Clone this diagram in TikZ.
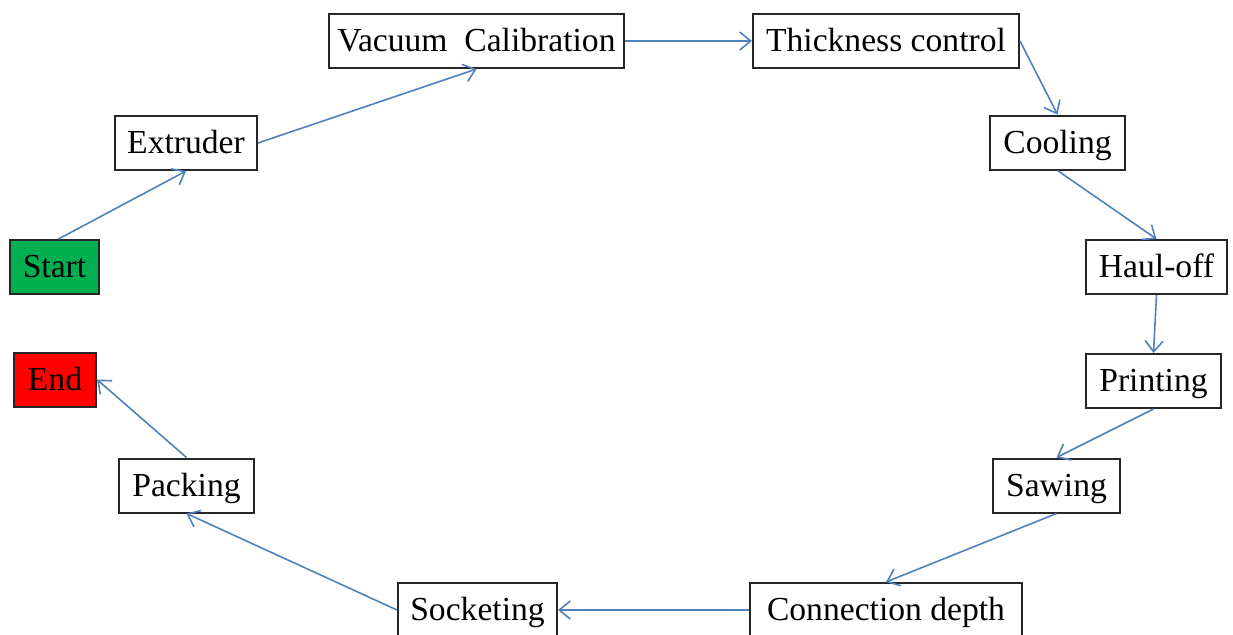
\documentclass[tikz,border=0pt]{standalone}
\usepackage{fontspec}
\setmainfont{Liberation Serif}
\usetikzlibrary{arrows.meta}
\definecolor{flowblue}{RGB}{79,129,189}
\definecolor{startgreen}{RGB}{0,176,80}
\begin{document}
\begin{tikzpicture}[x=0.5pt,y=-0.5pt,
		stage/.style={draw=black!85,line width=1pt,fill=white,minimum height=27pt,inner sep=0pt,
			text height=13pt,text depth=2.5pt,font=\fontsize{16.8}{19}\selectfont},
		flow/.style={draw=flowblue,line width=0.8pt,-{Straight Barb[length=5.5pt,width=9pt]}}]
		\useasboundingbox (0,0) rectangle (1233,634);
		\clip (0,0) rectangle (1233,634);
		
		\node[stage,fill=startgreen,minimum width=44.5pt] (start) at (54.5,267) {Start};
		\node[stage,minimum width=71pt] (extruder) at (186,143) {Extruder};
		\node[stage,minimum width=147.5pt] (vacuum) at (476.5,41) {Vacuum\ \ Calibration};
		\node[stage,minimum width=133pt] (thickness) at (886,41) {Thickness control};
		\node[stage,minimum width=67.5pt] (cooling) at (1057.5,142.5) {Cooling};
		\node[stage,minimum width=70.5pt] (hauloff) at (1156.5,267) {Haul-off};
		\node[stage,minimum width=67.5pt] (printing) at (1153.5,381) {Printing};
		\node[stage,minimum width=63.5pt] (sawing) at (1056.5,485.5) {Sawing};
		\node[stage,minimum width=136pt] (connection) at (886,610) {Connection depth};
		\node[stage,minimum width=79.5pt] (socketing) at (477.5,610) {Socketing};
		\node[stage,minimum width=67.5pt] (packing) at (186.5,485.5) {Packing};
		\node[stage,fill=red,minimum width=41pt] (end) at (55,379.5) {End};
		
		% process flow
		\draw[flow] ([xshift=2pt]start.north) -- (extruder.south);
		\draw[flow] (extruder.east) -- (vacuum.south);
		\draw[flow] (vacuum.east) -- (thickness.west);
		\draw[flow] (thickness.east) -- (cooling.north);
		\draw[flow] (cooling.south) -- (hauloff.north);
		\draw[flow] (hauloff.south) -- (printing.north);
		\draw[flow] (printing.south) -- (sawing.north);
		\draw[flow] (sawing.south) -- (connection.north);
		\draw[flow] (connection.west) -- (socketing.east);
		\draw[flow] (socketing.west) -- (packing.south);
		\draw[flow] (packing.north) -- (end.east);
	\end{tikzpicture}
\end{document}
